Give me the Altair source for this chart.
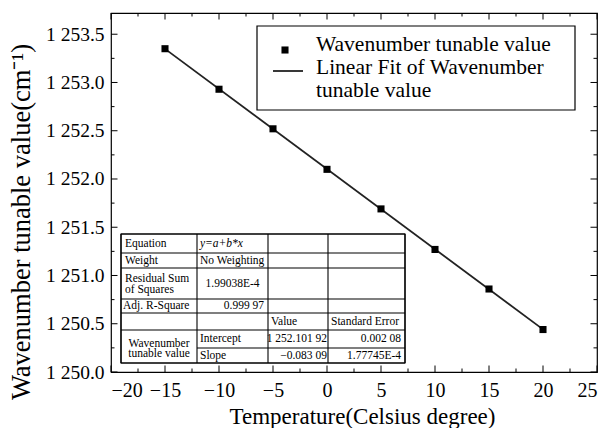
import altair as alt
import pandas as pd

# ---------------- data ----------------
temps = [-15, -10, -5, 0, 5, 10, 15, 20]
wavenumbers = [1253.35, 1252.93, 1252.52, 1252.10, 1251.69, 1251.27, 1250.86, 1250.44]

x_major_ticks = [-20, -15, -10, -5, 0, 5, 10, 15, 20, 25]
x_minor_ticks = [-17.5, -12.5, -7.5, -2.5, 2.5, 7.5, 12.5, 17.5, 22.5]
y_major_ticks = [1250.0, 1250.5, 1251.0, 1251.5, 1252.0, 1252.5, 1253.0, 1253.5]
y_minor_ticks = [1250.25, 1250.75, 1251.25, 1251.75, 1252.25, 1252.75, 1253.25]

x_title = "Temperature(Celsius degree)"
y_title = "Wavenumber tunable value(cm\u207b\u00b9)"
legend_labels = ["Wavenumber tunable value", "Linear Fit of Wavenumber", "tunable value"]

table_texts = [
    "Equation", "y=a+b*x", "Weight", "No Weighting",
    "Residual Sum", "of Squares", "1.99038E-4",
    "Adj. R-Square", "0.999 97",
    "Value", "Standard Error",
    "Wavenumber", "tunable value",
    "Intercept", "1 252.101 92", "0.002 08",
    "Slope", "\u22120.083 09", "1.77745E-4",
]

# ---------------- layout (pixels inside plot area) ----------------
W, H = 486, 359
FONT = "Liberation Serif"
X_DOMAIN = [-20, 25]
Y_DOMAIN = [1250, 1253.72]
MAJ, MIN = 6.5, 3.5

col_x = [10, 86, 157, 217, 294]
row_y = [221, 240, 255, 286, 300, 317, 335, 350]

# x, y, align, italic  (one per table_texts entry)
table_pos = [
    (14, 230.5, "left", False), (89, 230.5, "left", True),
    (14, 247.5, "left", False), (89, 247.5, "left", False),
    (14, 265.5, "left", False), (14, 276.5, "left", False), (121.5, 270.5, "center", False),
    (12, 293, "left", False), (153, 293, "right", False),
    (160, 308.5, "left", False), (220, 308.5, "left", False),
    (48, 330.5, "center", False), (48, 341, "center", False),
    (89, 325.5, "left", False), (216, 326, "right", False), (290, 326, "right", False),
    (89, 342.5, "left", False), (216, 342.5, "right", False), (290, 342.5, "right", False),
]

legend_text_pos = [(205, 32), (205, 55), (205, 78)]
y_title_pos = (-89, 209)

# ---------------- charts ----------------
df = pd.DataFrame({"temp": temps, "wn": wavenumbers})
xs = alt.Scale(domain=X_DOMAIN, nice=False, zero=False)
ys = alt.Scale(domain=Y_DOMAIN, nice=False, zero=False)

points = alt.Chart(df).mark_square(size=50, color="black", opacity=1).encode(
    x=alt.X("temp:Q", scale=xs, axis=alt.Axis(
        values=x_major_ticks, format="d", title=x_title,
        ticks=False, domain=False, grid=False, labelPadding=8, titlePadding=5,
        titleX=251,
        labelFont=FONT, labelFontSize=20, labelColor="black",
        titleFont=FONT, titleFontSize=23, titleFontWeight="normal", titleColor="black")),
    y=alt.Y("wn:Q", scale=ys, axis=alt.Axis(
        values=y_major_ticks, labelExpr="replace(format(datum.value, ',.1f'), ',', ' ')",
        title=None,
        ticks=False, domain=False, grid=False, labelPadding=7,
        labelFont=FONT, labelFontSize=19.5, labelColor="black")),
)

y_title_mark = alt.Chart(pd.DataFrame({"text": [y_title]})).mark_text(
    font=FONT, fontSize=26.5, color="black", angle=270, align="center", baseline="middle").encode(
    x=alt.value(y_title_pos[0]), y=alt.value(y_title_pos[1]), text="text:N")

fit = alt.Chart(df).transform_regression("temp", "wn").mark_line(
    color="#222222", strokeWidth=1.8).encode(
    x=alt.X("temp:Q", scale=xs, axis=None),
    y=alt.Y("wn:Q", scale=ys, axis=None),
)


def xticks(values, length, top):
    d = pd.DataFrame({"v": values})
    return alt.Chart(d).mark_rule(color="black", strokeWidth=1).encode(
        x=alt.X("v:Q", scale=xs, axis=None),
        y=alt.value(0 if top else H),
        y2=alt.value(length if top else H - length),
    )


def yticks(values, length, right):
    d = pd.DataFrame({"v": values})
    return alt.Chart(d).mark_rule(color="black", strokeWidth=1).encode(
        y=alt.Y("v:Q", scale=ys, axis=None),
        x=alt.value(W if right else 0),
        x2=alt.value(W - length if right else length),
    )


tick_layers = [
    xticks(x_major_ticks, MAJ, False), xticks(x_minor_ticks, MIN, False),
    xticks(x_major_ticks, MAJ, True), xticks(x_minor_ticks, MIN, True),
    yticks(y_major_ticks, MAJ, False), yticks(y_minor_ticks, MIN, False),
    yticks(y_major_ticks, MAJ, True), yticks(y_minor_ticks, MIN, True),
]

# table background + lines
tbl_bg = alt.Chart(pd.DataFrame({"x": [col_x[0]], "x2": [col_x[-1]],
                                 "y": [row_y[0]], "y2": [row_y[-1]]})).mark_rect(
    fill="white", stroke="black", strokeWidth=1.2).encode(
    x=alt.X("x:Q", scale=None, axis=None), x2="x2:Q",
    y=alt.Y("y:Q", scale=None, axis=None), y2="y2:Q")

lines = []
for i, yy in enumerate(row_y):
    x0 = col_x[1] if i == 6 else col_x[0]
    lines.append({"x": x0, "x2": col_x[-1], "y": yy, "y2": yy})
for xx in col_x:
    lines.append({"x": xx, "x2": xx, "y": row_y[0], "y2": row_y[-1]})
tbl_lines = alt.Chart(pd.DataFrame(lines)).mark_rule(color="black", strokeWidth=1.1).encode(
    x=alt.X("x:Q", scale=None, axis=None), x2="x2:Q",
    y=alt.Y("y:Q", scale=None, axis=None), y2="y2:Q")

tdf = pd.DataFrame({
    "text": table_texts,
    "x": [p[0] for p in table_pos],
    "y": [p[1] for p in table_pos],
    "align": [p[2] for p in table_pos],
    "italic": [p[3] for p in table_pos],
})
tbl_text_layers = []
for al in ["left", "center", "right"]:
    for it in [False, True]:
        sub = tdf[(tdf["align"] == al) & (tdf["italic"] == it)]
        if len(sub) == 0:
            continue
        tbl_text_layers.append(
            alt.Chart(sub).mark_text(font=FONT, fontSize=11.5, color="black", align=al,
                                     baseline="middle",
                                     fontStyle="italic" if it else "normal").encode(
                x=alt.X("x:Q", scale=None, axis=None),
                y=alt.Y("y:Q", scale=None, axis=None),
                text="text:N"))

# legend
leg_box = alt.Chart(pd.DataFrame({"x": [146], "x2": [464], "y": [13], "y2": [97]})).mark_rect(
    fill="white", stroke="black", strokeWidth=1.2).encode(
    x=alt.X("x:Q", scale=None, axis=None), x2="x2:Q",
    y=alt.Y("y:Q", scale=None, axis=None), y2="y2:Q")
leg_sym = alt.Chart(pd.DataFrame({"x": [174], "y": [37]})).mark_square(
    size=50, color="black", opacity=1).encode(
    x=alt.X("x:Q", scale=None, axis=None), y=alt.Y("y:Q", scale=None, axis=None))
leg_line = alt.Chart(pd.DataFrame({"x": [162], "x2": [192], "y": [58], "y2": [58]})).mark_rule(
    color="#222222", strokeWidth=1.8).encode(
    x=alt.X("x:Q", scale=None, axis=None), x2="x2:Q",
    y=alt.Y("y:Q", scale=None, axis=None), y2="y2:Q")
leg_text = alt.Chart(pd.DataFrame({
    "text": legend_labels,
    "x": [p[0] for p in legend_text_pos],
    "y": [p[1] for p in legend_text_pos]})).mark_text(
    font=FONT, fontSize=21.5, color="black", align="left", baseline="middle").encode(
    x=alt.X("x:Q", scale=None, axis=None),
    y=alt.Y("y:Q", scale=None, axis=None),
    text="text:N")

chart = alt.layer(
    fit, points, *tick_layers, tbl_bg, tbl_lines, *tbl_text_layers,
    leg_box, leg_sym, leg_line, leg_text, y_title_mark,
).resolve_scale(x="independent", y="independent").properties(
    width=W, height=H,
    autosize=alt.AutoSizeParams(type="none"),
    padding={"left": 111, "top": 13, "right": 9, "bottom": 56},
    background="white",
).configure_view(stroke="black", strokeWidth=1.2)

chart.save("out.html", embed_options={"renderer": "svg", "actions": False})
